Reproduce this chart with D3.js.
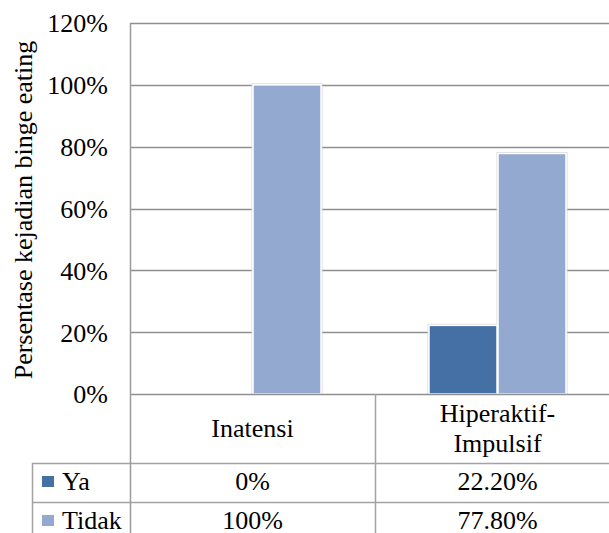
<!DOCTYPE html>
<html>
<head>
<meta charset="utf-8">
<script src="https://cdn.jsdelivr.net/npm/d3@7"></script>
<style>
  svg text { font-family: "Liberation Serif" !important; }
</style>
</head>
<body style="margin:0;background:#fff">
<svg id="chart" width="609" height="533" style="display:block"></svg>
<script>
// ---- data ----
const categories = ["Inatensi", "Hiperaktif-Impulsif"];
const categoryLines = [["Inatensi"], ["Hiperaktif-", "Impulsif"]];
const seriesNames = ["Ya", "Tidak"];
const yaValues = [0, 0.222];
const tidakValues = [1.0, 0.778];
const yaLabels = ["0%", "22.20%"];
const tidakLabels = ["100%", "77.80%"];
const yTicks = [0, 0.2, 0.4, 0.6, 0.8, 1.0, 1.2];
const yTitle = "Persentase kejadian binge eating";
const colors = ["#4470A6", "#94A9CF"];

// ---- layout ----
const FS = 26;
const W = 609, H = 533;
const plotLeft = 130, plotTop = 23, zeroY = 394;
const rowLines = [463, 502, 541];
const tableLeft = 32;

const svg = d3.select("#chart");
function txt(sel) {
  return sel.attr("font-family", "Liberation Serif")
    .style("font-family", "Liberation Serif", "important")
    .style("font-size", FS + "px").style("fill", "#000");
}

const y = d3.scaleLinear().domain([0, 1.2]).range([zeroY, plotTop]);
const x = d3.scaleBand().domain(categories).range([plotLeft, plotLeft + 2 * 245]).padding(0);
const xs = d3.scaleBand().domain(seriesNames).range([0, x.bandwidth()]).paddingInner(0).paddingOuter(0.775);

// gridlines
svg.append("g").selectAll("line").data(yTicks.filter(d => d > 0)).join("line")
  .attr("x1", plotLeft).attr("x2", W)
  .attr("y1", d => Math.round(y(d)) + 0.5).attr("y2", d => Math.round(y(d)) + 0.5)
  .attr("stroke", "#8f8f8f").attr("stroke-width", 1.5);

// y axis labels
const yAxis = d3.axisLeft(y).tickValues(yTicks).tickFormat(d3.format(".0%")).tickSize(0).tickPadding(0);
const gy = svg.append("g").attr("transform", `translate(108,0)`).call(yAxis);
gy.attr("font-family", "Liberation Serif").attr("font-size", FS);
gy.select(".domain").remove();
txt(gy.selectAll("text")).attr("dy", "0.34em");

// y title
txt(svg.append("text"))
  .attr("transform", `translate(32,210) rotate(-90)`)
  .attr("text-anchor", "middle")
  .text(yTitle);

// bars (soft halo + white outline)
const series = [yaValues, tidakValues];
const barData = [];
categories.forEach((c, i) => seriesNames.forEach((s, j) => barData.push({ c, s, v: series[j][i], j })));
const shown = barData.filter(d => d.v > 0);
const gb = svg.append("g");
gb.selectAll("rect.halo").data(shown).join("rect").attr("class", "halo")
  .attr("x", d => x(d.c) + xs(d.s) - 0.5)
  .attr("width", xs.bandwidth() + 1)
  .attr("y", d => y(d.v) - 1)
  .attr("height", d => zeroY - y(d.v) + 1)
  .attr("fill", "none").attr("stroke", "#d6d6d6").attr("stroke-width", 1);
gb.selectAll("rect.bar").data(shown).join("rect").attr("class", "bar")
  .attr("x", d => x(d.c) + xs(d.s) + 0.5)
  .attr("width", xs.bandwidth() - 1)
  .attr("y", d => y(d.v))
  .attr("height", d => zeroY - y(d.v))
  .attr("fill", d => colors[d.j])
  .attr("stroke", "#fff").attr("stroke-width", 1.5);

// table lines
const tl = svg.append("g").attr("stroke", "#a3a3a3").attr("stroke-width", 1.5);
tl.append("line").attr("x1", plotLeft).attr("x2", W).attr("y1", zeroY + 0.5).attr("y2", zeroY + 0.5).attr("stroke", "#8f8f8f");
rowLines.forEach(ry => tl.append("line").attr("x1", tableLeft).attr("x2", W).attr("y1", ry + 0.5).attr("y2", ry + 0.5));
tl.append("line").attr("x1", plotLeft + 0.5).attr("x2", plotLeft + 0.5).attr("y1", plotTop).attr("y2", H).attr("stroke", "#9a9a9a");
tl.append("line").attr("x1", tableLeft + 0.5).attr("x2", tableLeft + 0.5).attr("y1", rowLines[0]).attr("y2", H);
tl.append("line").attr("x1", x(categories[1]) + 0.5).attr("x2", x(categories[1]) + 0.5).attr("y1", zeroY).attr("y2", H);

// category labels
categories.forEach((c, i) => {
  const lines = categoryLines[i];
  const cx = x(c) + x.bandwidth() / 2;
  const mid = 437;
  const t = txt(svg.append("text")).attr("text-anchor", "middle");
  lines.forEach((ln, k) => {
    t.append("tspan").attr("x", cx)
      .attr("y", mid + (k - (lines.length - 1) / 2) * 30)
      .text(ln);
  });
});

// data rows
const rowLabels = [yaLabels, tidakLabels];
const baselines = [490, 529];
seriesNames.forEach((s, j) => {
  const top = rowLines[j];
  svg.append("rect").attr("x", 42).attr("y", top + 13).attr("width", 12).attr("height", 11).attr("fill", colors[j]);
  txt(svg.append("text")).attr("x", 62).attr("y", baselines[j]).text(s);
  categories.forEach((c, i) => {
    txt(svg.append("text")).attr("x", x(c) + x.bandwidth() / 2).attr("y", baselines[j])
      .attr("text-anchor", "middle").text(rowLabels[j][i]);
  });
});
</script>
</body>
</html>
